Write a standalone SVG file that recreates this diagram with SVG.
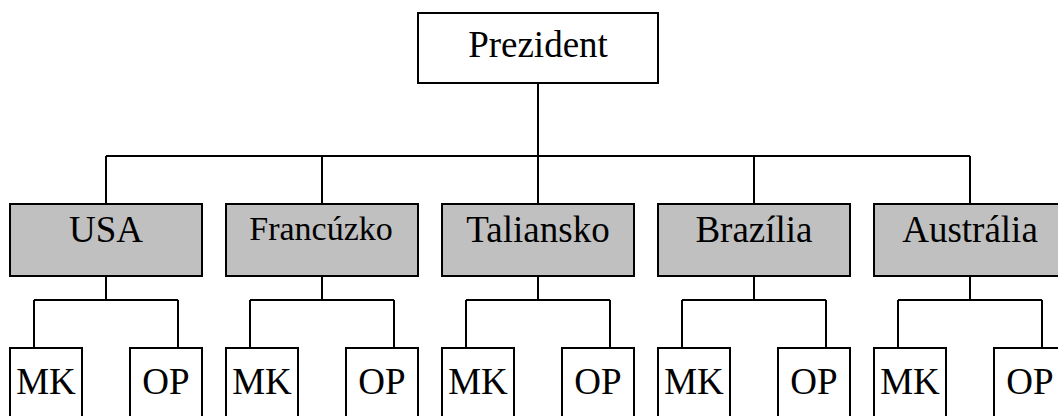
<svg xmlns="http://www.w3.org/2000/svg" width="1058" height="416" viewBox="0 0 1058 416">
  <style>
    .box { fill: #ffffff; stroke: #000000; stroke-width: 2; }
    .country { fill: #c0c0c0; stroke: #000000; stroke-width: 2; }
    .conn { fill: none; stroke: #000000; stroke-width: 2; }
  </style>
  <rect width="1058" height="416" fill="#ffffff"/>

  <!-- connectors -->
  <g id="connectors" class="conn">
    <path d="M538 83 V156 M106 156 H970 M106 156 V204 M322 156 V204 M538 156 V204 M754 156 V204 M970 156 V204"/>
    <path d="M106 276 V300 M34 300 H178 M34 300 V348 M178 300 V348"/>
    <path d="M322 276 V300 M250 300 H394 M250 300 V348 M394 300 V348"/>
    <path d="M538 276 V300 M466 300 H610 M466 300 V348 M610 300 V348"/>
    <path d="M754 276 V300 M682 300 H826 M682 300 V348 M826 300 V348"/>
    <path d="M970 276 V300 M898 300 H1042 M898 300 V348 M1042 300 V348"/>
  </g>

  <g font-family="'Liberation Serif', 'DejaVu Serif', serif" font-size="37" fill="#000000" text-anchor="middle">
    <!-- top node -->
    <g id="prezident">
      <rect class="box" x="418" y="13" width="240" height="70"/>
      <text x="538" y="57">Prezident</text>
    </g>

    <!-- country nodes -->
    <g id="usa">
      <rect class="country" x="10" y="204" width="192" height="72"/>
      <text x="106" y="242">USA</text>
    </g>
    <g id="francuzko">
      <rect class="country" x="226" y="204" width="192" height="72"/>
      <text x="321" y="240" font-size="34">Francúzko</text>
    </g>
    <g id="taliansko">
      <rect class="country" x="442" y="204" width="192" height="72"/>
      <text x="538" y="242">Taliansko</text>
    </g>
    <g id="brazilia">
      <rect class="country" x="658" y="204" width="192" height="72"/>
      <text x="754" y="242">Brazília</text>
    </g>
    <g id="australia">
      <rect class="country" x="874" y="204" width="192" height="72"/>
      <text x="970" y="242">Austrália</text>
    </g>

    <!-- leaf nodes -->
    <g id="usa-mk"><rect class="box" x="10" y="348" width="72" height="80"/><text x="46" y="394">MK</text></g>
    <g id="usa-op"><rect class="box" x="130" y="348" width="72" height="80"/><text x="166" y="394">OP</text></g>
    <g id="francuzko-mk"><rect class="box" x="226" y="348" width="72" height="80"/><text x="262" y="394">MK</text></g>
    <g id="francuzko-op"><rect class="box" x="346" y="348" width="72" height="80"/><text x="382" y="394">OP</text></g>
    <g id="taliansko-mk"><rect class="box" x="442" y="348" width="72" height="80"/><text x="478" y="394">MK</text></g>
    <g id="taliansko-op"><rect class="box" x="562" y="348" width="72" height="80"/><text x="598" y="394">OP</text></g>
    <g id="brazilia-mk"><rect class="box" x="658" y="348" width="72" height="80"/><text x="694" y="394">MK</text></g>
    <g id="brazilia-op"><rect class="box" x="778" y="348" width="72" height="80"/><text x="814" y="394">OP</text></g>
    <g id="australia-mk"><rect class="box" x="874" y="348" width="72" height="80"/><text x="910" y="394">MK</text></g>
    <g id="australia-op"><rect class="box" x="994" y="348" width="72" height="80"/><text x="1030" y="394">OP</text></g>
  </g>
</svg>
